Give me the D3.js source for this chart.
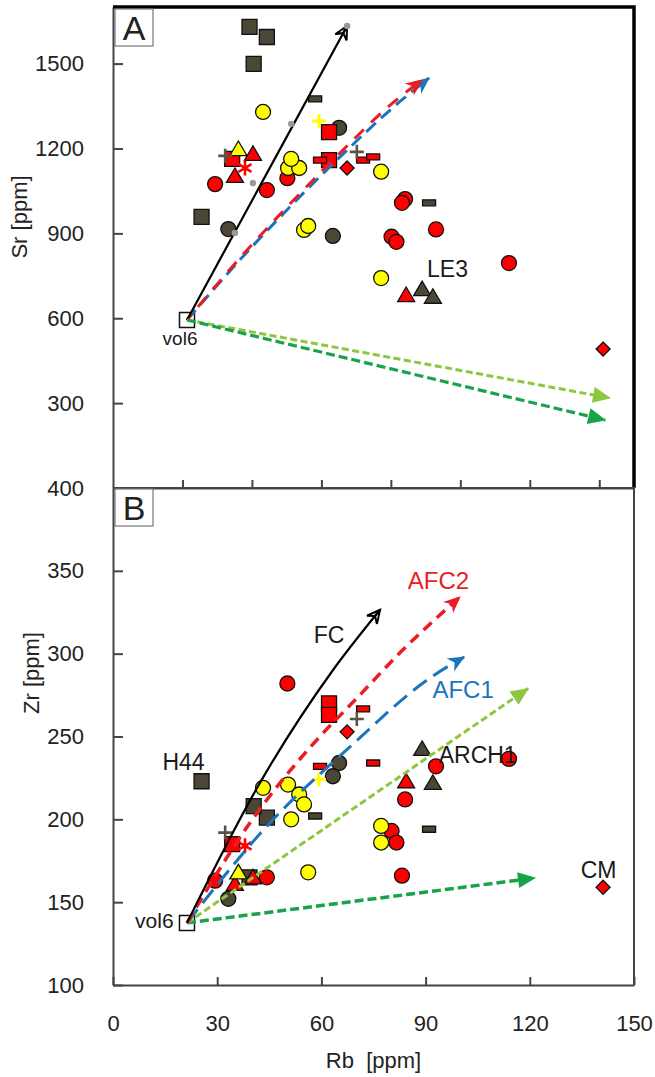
<!DOCTYPE html>
<html>
<head>
<meta charset="utf-8">
<script src="https://cdn.jsdelivr.net/npm/d3@7"></script>
<style>
  body { margin: 0; background: #fff; }
  svg { display: block; font-family: "Liberation Sans", Arial, sans-serif; }
</style>
</head>
<body>
<svg></svg>
<script>
// tick values
const rbTicksA = [20, 40, 60, 80, 100, 120, 140];
const srTicks = [300, 600, 900, 1200, 1500];
const rbTicksB = [0, 30, 60, 90, 120, 150];
const zrTicks = [100, 150, 200, 250, 300, 350, 400];

// samples: [Rb, Sr, Zr]
const darkSquares = [[39.3, 1630, 165], [44.3, 1594, 201], [40.5, 1499, 208], [25.5, 958, 223]];
const darkCircles = [[65.1, 1273, 234], [63.3, 891, 226], [33.2, 915, 152]];
const darkTriangles = [[89.0, 703, 242.5], [92.1, 676, 222]];
const darkDashes = [[58.2, 1375, 202], [91.0, 1008, 194]];
const redCircles = [
  [29.4, 1074, 163], [44.3, 1053, 165], [50.2, 1095, 282], [80.2, 888, 193],
  [81.6, 870, 186], [84.1, 1021, 212], [83.2, 1008, 166], [93.0, 914, 232], [114.0, 795, 236.5],
];
const redSquares = [[62.2, 1258, 270], [62.2, 1159, 263], [34.3, 1163, 185]];
const redTriangles = [[40.3, 1181, 165], [35.1, 1103, 161], [84.4, 682, 223]];
const redDiamonds = [[67.4, 1131, 252.8], [141.1, 491, 159]];
const redDashes = [[59.6, 1159, 232], [72.0, 1159, 266.7], [74.9, 1170, 234]];
const redStars = [[38.0, 1131, 184]];
const yellowCircles = [
  [43.2, 1329, 219], [50.4, 1131, 221], [53.6, 1131, 215], [51.3, 1163, 200],
  [55.0, 912, 209], [56.2, 926, 168], [77.2, 1118, 196], [77.2, 742, 186],
];
const yellowTriangles = [[36.1, 1198, 168]];
const darkPlus = [[32.3, 1174, 192], [70.2, 1188, 260.6]];
const yellowPlus = [[59.3, 1297, 224]];
const vol6 = [[21.3, 594, 137.5]];

// FC model steps (panel A only): [Rb, Sr]
const fcStepsA = [[35.1, 901], [40.3, 1078], [51.3, 1287], [67.4, 1633]];

// model curves, panel A: [Rb, Sr]
const fcA = [[21.3, 594], [67.4, 1633]];
const afc2A = [[21.3, 594], [38.6, 841], [50.1, 993], [62.5, 1149], [82.6, 1382], [89.0, 1442]];
const afc1A = [[21.3, 594], [38.9, 838], [50.5, 988], [63.0, 1142], [83.5, 1375], [91.0, 1449]];
const mixLightA = [[21.3, 594], [143.1, 318]];
const mixDarkA = [[21.3, 594], [141.7, 240]];

// model curves, panel B: [Rb, Zr]
const fcB = [[21.3, 137.5], [42.3, 222], [63.3, 290], [76.9, 326.5]];
const afc2B = [[21.3, 137.5], [39.4, 197.8], [58.7, 248], [69.7, 272], [82.6, 300.5], [99.9, 334.3]];
const afc1B = [[21.3, 137.5], [44.9, 197.2], [68.2, 243.7], [91.3, 285.4], [101.1, 298]];
const mixLightB = [[21.3, 137.5], [119.5, 279]];
const mixDarkB = [[21.3, 137.5], [121.5, 164.6]];

// annotations: [text, Rb, value]
const notesA = [["vol6", 19.3, 505], ["LE3", 96.3, 746]];
const notesB = [
  ["H44", 20.3, 229.8], ["vol6", 11.9, 134.4], ["FC", 62.2, 306.5], ["ARCH1", 105.0, 234.1],
  ["CM", 139.8, 164.6],
];
const notesBColored = [["AFC2", 93.7, 339.1], ["AFC1", 100.8, 273.3]];

const width = 655;
const height = 1077;
const left = 113;
const right = 634;
const topA = 7;
const midY = 488;
const bottomB = 985;

const dark = "#4b4636";
const red = "#ff0000";
const yellow = "#ffff00";
const lineRed = "#ec1c24";
const lineBlue = "#1c75bc";
const lightGreen = "#8dc63f";
const darkGreen = "#18a34a";

const svg = d3.select("svg").attr("width", width).attr("height", height);
svg.append("rect").attr("width", width).attr("height", height).attr("fill", "#fff");

const xScale = d3.scaleLinear().domain([0, 150]).range([left, right]);
const yScaleA = d3.scaleLinear().domain([0, 1700]).range([midY, topA]);
const yScaleB = d3.scaleLinear().domain([100, 400]).range([bottomB, midY]);

// arrowheads
const defs = svg.append("defs");
const addArrow = (id, color, d, open) => {
  defs
    .append("marker")
    .attr("id", id)
    .attr("viewBox", "-22 -11 24 22")
    .attr("refX", 0)
    .attr("refY", 0)
    .attr("markerWidth", 24)
    .attr("markerHeight", 22)
    .attr("markerUnits", "userSpaceOnUse")
    .attr("orient", "auto")
    .append("path")
    .attr("d", d)
    .attr("fill", open ? "none" : color)
    .attr("stroke", open ? color : "none")
    .attr("stroke-width", open ? 2 : 0)
    .attr("stroke-linejoin", "miter");
};
addArrow("ar-black", "#000", "M-13,-6.5L0,0L-13,6.5M-13,-6.5L-8,0L-13,6.5M0,0L-9,0", true);
addArrow("ar-red", lineRed, "M1,0L-16,-7.5L-11,0L-16,7.5Z", false);
addArrow("ar-blue", lineBlue, "M1,0L-16,-7.5L-11,0L-16,7.5Z", false);
addArrow("ar-lgreen", lightGreen, "M1,0L-17,-8L-17,8Z", false);
addArrow("ar-dgreen", darkGreen, "M1,0L-17,-8L-17,8Z", false);

const drawSamples = (g, yScale, k) => {
  const pos = (d) => `translate(${xScale(d[0])},${yScale(d[k])})`;
  const outline = (sel) => sel.attr("stroke", "#111").attr("stroke-width", 1.3);

  const shape = (data, d, fill) => {
    g.selectAll(null)
      .data(data)
      .enter()
      .append("path")
      .attr("d", d)
      .attr("transform", pos)
      .attr("fill", fill)
      .call(outline);
  };
  const circles = (data, fill) => {
    g.selectAll(null)
      .data(data)
      .enter()
      .append("circle")
      .attr("cx", (d) => xScale(d[0]))
      .attr("cy", (d) => yScale(d[k]))
      .attr("r", 7.5)
      .attr("fill", fill)
      .call(outline);
  };
  const square = "M-7.5,-7.5H7.5V7.5H-7.5Z";
  const triangle = "M0,-8L8.5,6.5H-8.5Z";
  const diamond = "M0,-7L7,0L0,7L-7,0Z";
  const dash = "M-6.5,-3H6.5V3H-6.5Z";
  const plus = "M-7,0H7M0,-7V7";
  const star = "M0,-7.5V7.5M-6.5,-3.8L6.5,3.8M-6.5,3.8L6.5,-3.8";

  shape(darkSquares, square, dark);
  circles(darkCircles, dark);
  shape(darkTriangles, triangle, dark);
  shape(darkDashes, dash, dark);
  circles(redCircles, red);
  circles(yellowCircles, yellow);
  shape(redSquares, square, red);
  shape(redTriangles, triangle, red);
  shape(yellowTriangles, triangle, yellow);
  shape(redDiamonds, diamond, red);
  shape(redDashes, dash, red);

  g.selectAll(null)
    .data(darkPlus)
    .enter()
    .append("path")
    .attr("d", plus)
    .attr("transform", pos)
    .attr("fill", "none")
    .attr("stroke", "#5a5442")
    .attr("stroke-width", 2.6);
  g.selectAll(null)
    .data(yellowPlus)
    .enter()
    .append("path")
    .attr("d", plus)
    .attr("transform", pos)
    .attr("fill", "none")
    .attr("stroke", "#ffff00")
    .attr("stroke-width", 3);
  g.selectAll(null)
    .data(redStars)
    .enter()
    .append("path")
    .attr("d", star)
    .attr("transform", pos)
    .attr("fill", "none")
    .attr("stroke", red)
    .attr("stroke-width", 2.6);

  g.selectAll(null)
    .data(vol6)
    .enter()
    .append("path")
    .attr("d", square)
    .attr("transform", pos)
    .attr("fill", "none")
    .attr("stroke", "#111")
    .attr("stroke-width", 1.5);
};

const drawModels = (g, yScale, models) => {
  const line = d3
    .line()
    .x((d) => xScale(d[0]))
    .y((d) => yScale(d[1]))
    .curve(d3.curveMonotoneX);
  models.forEach((m) => {
    g.append("path")
      .datum(m.data)
      .attr("d", line)
      .attr("fill", "none")
      .attr("stroke", m.color)
      .attr("stroke-width", m.w)
      .attr("stroke-dasharray", m.dash)
      .attr("stroke-dashoffset", m.offset || 0)
      .attr("marker-end", `url(#${m.arrow})`);
  });
};

const drawNotes = (g, yScale, notes, size, fill) => {
  g.selectAll(null)
    .data(notes)
    .enter()
    .append("text")
    .attr("x", (d) => xScale(d[1]))
    .attr("y", (d) => yScale(d[2]))
    .attr("text-anchor", "middle")
    .attr("font-size", size)
    .attr("fill", (d) => (fill ? fill(d) : "#1a1a1a"))
    .text((d) => d[0]);
};

const styleAxis = (g) => {
  g.selectAll(".domain").attr("stroke", "#444").attr("stroke-width", 2);
  g.selectAll(".tick line").attr("stroke", "#444").attr("stroke-width", 2);
  g.selectAll(".tick text")
    .attr("font-size", 22)
    .attr("fill", "#222")
    .attr("font-family", "'Liberation Sans', Arial, sans-serif");
};

// ---------- panel A ----------
const gA = svg.append("g");
drawSamples(gA, yScaleA, 1);
drawModels(gA, yScaleA, [
  { data: afc1A, color: lineBlue, w: 3, dash: "13,7", arrow: "ar-blue" },
  { data: afc2A, color: lineRed, w: 3, dash: "13,10", offset: 6, arrow: "ar-red" },
  { data: fcA, color: "#000", w: 2.2, dash: null, arrow: "ar-black" },
  { data: mixLightA, color: lightGreen, w: 3, dash: "7,3.5", arrow: "ar-lgreen" },
  { data: mixDarkA, color: darkGreen, w: 3.2, dash: "9,4", arrow: "ar-dgreen" },
]);
gA.selectAll(null)
  .data(fcStepsA)
  .enter()
  .append("circle")
  .attr("cx", (d) => xScale(d[0]))
  .attr("cy", (d) => yScaleA(d[1]))
  .attr("r", 3.2)
  .attr("fill", "#999");
drawNotes(gA, yScaleA, notesA, 19);
gA.selectAll("text").filter((d) => d[0] === "LE3").attr("font-size", 23);

const axisYA = gA
  .append("g")
  .attr("transform", `translate(${left},0)`)
  .call(
    d3.axisLeft(yScaleA).tickValues(srTicks).tickFormat(d3.format("d"))
      .tickSizeInner(-10).tickSizeOuter(0).tickPadding(29),
  );
styleAxis(axisYA);
const axisXA = gA
  .append("g")
  .attr("transform", `translate(0,${midY})`)
  .call(d3.axisBottom(xScale).tickValues(rbTicksA).tickSizeInner(-8).tickSizeOuter(0).tickFormat(""));
styleAxis(axisXA);

// thick frame top / right
gA.append("path")
  .attr("d", `M${left},${topA}H${right}V${midY}`)
  .attr("fill", "none")
  .attr("stroke", "#000")
  .attr("stroke-width", 3.5);

// ---------- panel B ----------
const gB = svg.append("g");
drawSamples(gB, yScaleB, 2);
drawModels(gB, yScaleB, [
  { data: mixDarkB, color: darkGreen, w: 3.5, dash: "9,4", arrow: "ar-dgreen" },
  { data: mixLightB, color: lightGreen, w: 3, dash: "7,3.5", arrow: "ar-lgreen" },
  { data: afc1B, color: lineBlue, w: 3, dash: "17,8", arrow: "ar-blue" },
  { data: afc2B, color: lineRed, w: 3.5, dash: "11,7", arrow: "ar-red" },
  { data: fcB, color: "#000", w: 2.2, dash: null, arrow: "ar-black" },
]);
drawNotes(gB, yScaleB, notesB, 23);
gB.selectAll("text").filter((d) => d[0] === "vol6").attr("font-size", 21);
drawNotes(gB, yScaleB, notesBColored, 24, (d) => (d[0] === "AFC2" ? lineRed : lineBlue));

const axisYB = gB
  .append("g")
  .attr("transform", `translate(${left},0)`)
  .call(
    d3.axisLeft(yScaleB).tickValues(zrTicks).tickFormat(d3.format("d"))
      .tickSizeInner(-10).tickSizeOuter(0).tickPadding(29),
  );
styleAxis(axisYB);
const axisXB = gB
  .append("g")
  .attr("transform", `translate(0,${bottomB})`)
  .call(d3.axisBottom(xScale).tickValues(rbTicksB).tickSizeInner(-8).tickSizeOuter(0).tickPadding(30));
styleAxis(axisXB);
gB.append("path")
  .attr("d", `M${left},${midY}H${right}V${bottomB}`)
  .attr("fill", "none")
  .attr("stroke", "#444")
  .attr("stroke-width", 2);

// panel letters
const letterBox = (letter, y) => {
  svg.append("rect")
    .attr("x", left + 2)
    .attr("y", y)
    .attr("width", 38)
    .attr("height", 37)
    .attr("fill", "#fff")
    .attr("stroke", "#777")
    .attr("stroke-width", 1.2);
  svg.append("text")
    .attr("x", left + 21)
    .attr("y", y + 31)
    .attr("text-anchor", "middle")
    .attr("font-size", 34)
    .attr("fill", "#222")
    .text(letter);
};
letterBox("A", topA + 2);
letterBox("B", midY + 1);

// axis titles
svg.append("text")
  .attr("transform", "translate(20,217) rotate(-90)")
  .attr("dy", "0.33em")
  .attr("text-anchor", "middle")
  .attr("font-size", 22)
  .attr("fill", "#222")
  .text("Sr [ppm]");
svg.append("text")
  .attr("transform", "translate(32,673) rotate(-90)")
  .attr("dy", "0.33em")
  .attr("text-anchor", "middle")
  .attr("font-size", 22)
  .attr("fill", "#222")
  .text("Zr [ppm]");
svg.append("text")
  .attr("x", xScale(75))
  .attr("y", 1068)
  .attr("text-anchor", "middle")
  .attr("font-size", 22)
  .attr("fill", "#222")
  .style("white-space", "pre")
  .text("Rb  [ppm]");
</script>
</body>
</html>
